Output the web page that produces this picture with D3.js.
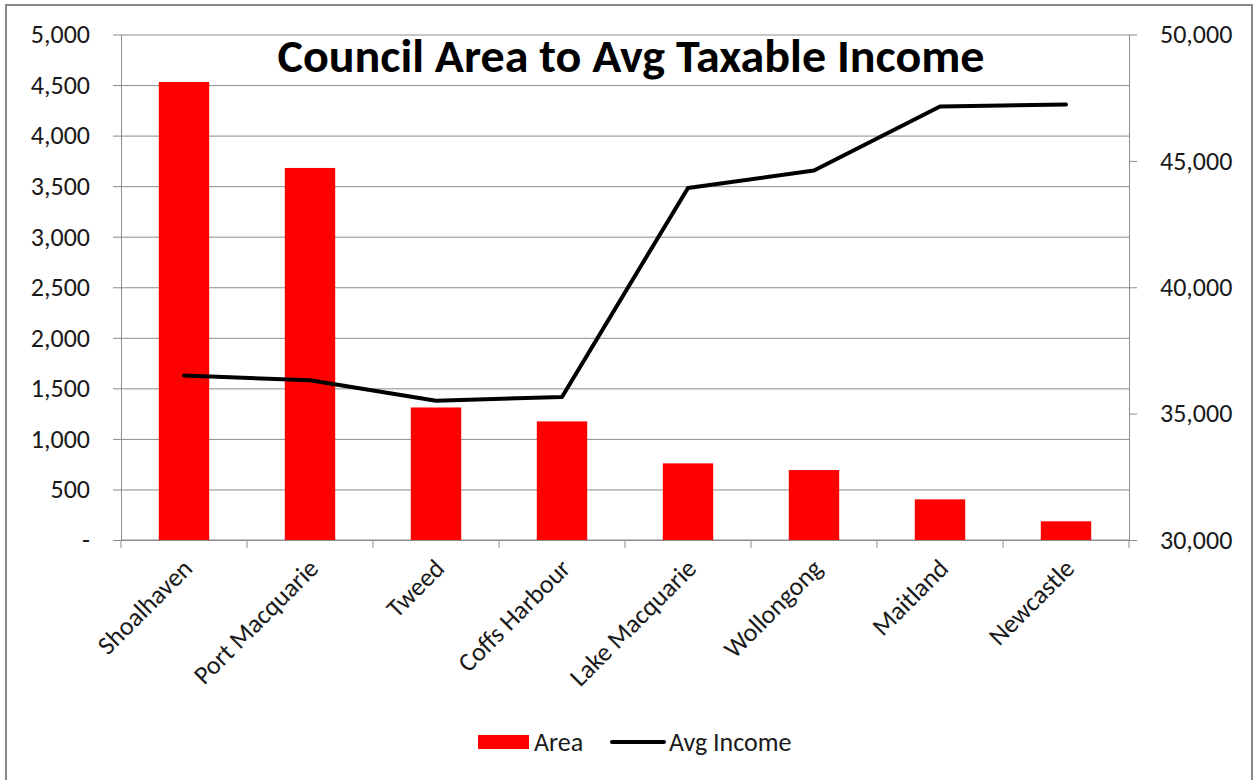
<!DOCTYPE html>
<html>
<head>
<meta charset="utf-8">
<script src="https://cdn.jsdelivr.net/npm/d3@7"></script>
<style>
  body { margin: 0; background: #fff; }
  svg { display: block; font-family: Carlito, "Open Sans", sans-serif; }
</style>
</head>
<body>
<svg id="chart" width="1259" height="780"></svg>
<script>
// values
const councils = ['Shoalhaven', 'Port Macquarie', 'Tweed', 'Coffs Harbour',
  'Lake Macquarie', 'Wollongong', 'Maitland', 'Newcastle'];
const areaValues = [4530, 3680, 1311, 1173, 758, 692, 402, 185];
const incomeValues = [36510, 36320, 35510, 35660, 43930, 44620, 47150, 47230];
const areaTicks = [0, 500, 1000, 1500, 2000, 2500, 3000, 3500, 4000, 4500, 5000];
const incomeTicks = [30000, 35000, 40000, 45000, 50000];
const seriesNames = ['Area', 'Avg Income'];
const title = 'Council Area to Avg Taxable Income';

const width = 1259, height = 780;
const margin = { top: 34.5, right: 130, bottom: 240, left: 121 };
const innerWidth = width - margin.left - margin.right;
const innerHeight = height - margin.top - margin.bottom;
const gridColor = '#8c8c8c';
const textColor = '#1a1a1a';
const fontSize = '26px';

const svg = d3.select('#chart');

// chart border: the bottom edge lies outside the picture
svg.append('path')
  .attr('d', `M6,${height} V5 H1252 V${height}`)
  .attr('fill', 'none')
  .attr('stroke', '#888')
  .attr('stroke-width', 2);

const g = svg.append('g')
  .attr('transform', `translate(${margin.left},${margin.top})`);

const xScale = d3.scaleBand()
  .domain(councils)
  .range([0, innerWidth])
  .paddingInner(0.6)
  .paddingOuter(0.3);

const yLeft = d3.scaleLinear().domain([0, 5000]).range([innerHeight, 0]);
const yRight = d3.scaleLinear().domain([30000, 50000]).range([innerHeight, 0]);

// strip the defaults d3 puts on an axis group and style it like the source
const styleAxis = (axisG, anchor) => {
  axisG.attr('font-family', null).attr('font-size', null)
    .attr('fill', null).attr('text-anchor', null);
  axisG.select('.domain').attr('stroke', gridColor);
  axisG.selectAll('line').attr('stroke', gridColor);
  axisG.selectAll('text')
    .attr('fill', textColor)
    .attr('text-anchor', anchor)
    .style('font-size', fontSize);
};

// gridlines
const gridG = g.append('g')
  .call(d3.axisLeft(yLeft).tickValues(areaTicks).tickSize(-innerWidth).tickFormat(''));
gridG.select('.domain').remove();
gridG.selectAll('line').attr('stroke', gridColor);

// left axis
const yAxisG = g.append('g')
  .call(d3.axisLeft(yLeft)
    .tickValues(areaTicks)
    .tickSize(8)
    .tickSizeOuter(0)
    .tickPadding(23)
    .tickFormat(d => d === 0 ? '-' : d3.format(',')(d)));
styleAxis(yAxisG, 'end');

// right axis
const yAxisRG = g.append('g')
  .attr('transform', `translate(${innerWidth},0)`)
  .call(d3.axisRight(yRight)
    .tickValues(incomeTicks)
    .tickSize(8)
    .tickSizeOuter(0)
    .tickPadding(23)
    .tickFormat(d3.format(',')));
styleAxis(yAxisRG, 'start');

// x axis: ticks sit between categories
const xAxisG = g.append('g')
  .attr('transform', `translate(0,${innerHeight})`);
xAxisG.append('line')
  .attr('x1', 0).attr('x2', innerWidth)
  .attr('stroke', gridColor);
const bounds = councils.map(c => xScale(c) - xScale.step() * xScale.paddingOuter());
bounds.push(innerWidth);
xAxisG.selectAll('.xtick').data(bounds).enter().append('line')
  .attr('class', 'xtick')
  .attr('x1', d => d).attr('x2', d => d)
  .attr('y1', 0).attr('y2', 8)
  .attr('stroke', gridColor);
xAxisG.selectAll('.xlabel').data(councils).enter().append('text')
  .attr('class', 'xlabel')
  .attr('text-anchor', 'end')
  .attr('fill', textColor)
  .style('font-size', fontSize)
  .attr('transform', d => `translate(${xScale(d) + xScale.bandwidth() / 2 + 10},30) rotate(-45)`)
  .text(d => d);

// bars
g.selectAll('.bar').data(councils).enter().append('rect')
  .attr('class', 'bar')
  .attr('x', d => xScale(d))
  .attr('width', xScale.bandwidth())
  .attr('y', (d, i) => yLeft(areaValues[i]))
  .attr('height', (d, i) => innerHeight - yLeft(areaValues[i]))
  .attr('fill', '#ff0000');

// income line
const line = d3.line()
  .x((d, i) => xScale(councils[i]) + xScale.bandwidth() / 2)
  .y(d => yRight(d));

g.append('path')
  .datum(incomeValues)
  .attr('d', line)
  .attr('fill', 'none')
  .attr('stroke', '#000')
  .attr('stroke-width', 4)
  .attr('stroke-linejoin', 'round')
  .attr('stroke-linecap', 'round');

// title
svg.append('text')
  .attr('x', 631)
  .attr('y', 71.5)
  .attr('text-anchor', 'middle')
  .attr('fill', '#000')
  .style('font-size', '47px')
  .style('font-weight', 'bold')
  .attr('textLength', 707)
  .attr('lengthAdjust', 'spacingAndGlyphs')
  .text(title);

// legend
const legend = svg.append('g').attr('transform', 'translate(478,742)');
legend.append('rect')
  .attr('x', 0).attr('y', -7)
  .attr('width', 51).attr('height', 14)
  .attr('fill', '#ff0000');
legend.append('text')
  .attr('x', 56).attr('y', 0).attr('dy', '0.35em')
  .attr('fill', textColor)
  .style('font-size', fontSize)
  .text(seriesNames[0]);
legend.append('line')
  .attr('x1', 134).attr('x2', 186)
  .attr('stroke', '#000')
  .attr('stroke-width', 4)
  .attr('stroke-linecap', 'round');
legend.append('text')
  .attr('x', 191).attr('y', 0).attr('dy', '0.35em')
  .attr('fill', textColor)
  .style('font-size', fontSize)
  .text(seriesNames[1]);
</script>
</body>
</html>
